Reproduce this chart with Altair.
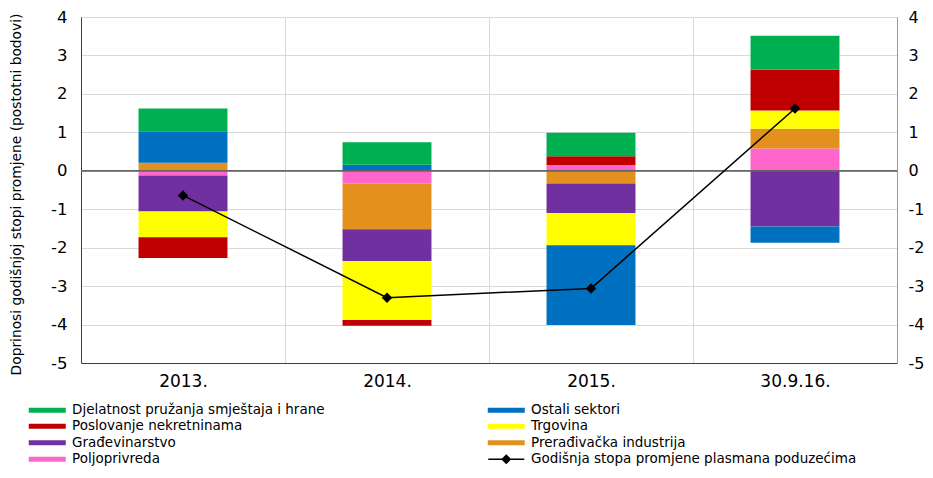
import altair as alt
import pandas as pd

categories = ["2013.", "2014.", "2015.", "30.9.16."]

s_djelatnost = [0.59, 0.58, 0.61, 0.88]
s_ostali = [0.82, 0.16, -2.07, -0.42]
s_poslovanje = [-0.54, -0.15, 0.23, 1.06]
s_trgovina = [-0.67, -1.53, -0.84, 0.48]
s_gradjevinarstvo = [-0.94, -0.83, -0.77, -1.45]
s_preradjivacka = [0.21, -1.19, -0.33, 0.51]
s_poljoprivreda = [-0.12, -0.33, 0.15, 0.58]
line_total = [-0.64, -3.30, -3.06, 1.62]

N_DJEL = "Djelatnost pružanja smještaja i hrane"
N_OST = "Ostali sektori"
N_POSL = "Poslovanje nekretninama"
N_TRG = "Trgovina"
N_GRAD = "Građevinarstvo"
N_PRER = "Prerađivačka industrija"
N_POLJ = "Poljoprivreda"
N_LINE = "Godišnja stopa promjene plasmana poduzećima"

# stacking order (closest to zero first)
stack_order = [N_POLJ, N_PRER, N_GRAD, N_TRG, N_POSL, N_OST, N_DJEL]
series_values = {
    N_DJEL: s_djelatnost,
    N_OST: s_ostali,
    N_POSL: s_poslovanje,
    N_TRG: s_trgovina,
    N_GRAD: s_gradjevinarstvo,
    N_PRER: s_preradjivacka,
    N_POLJ: s_poljoprivreda,
}

# legend filled column by column
legend_domain = [N_DJEL, N_POSL, N_GRAD, N_POLJ, N_OST, N_TRG, N_PRER, N_LINE]
legend_colors = ["#00B050", "#C00000", "#7030A0", "#FF66CC", "#0070C0", "#FFFF00", "#E3901F", "#000000"]

rows = []
for name in stack_order:
    for cat, v in zip(categories, series_values[name]):
        rows.append({"kategorija": cat, "sektor": name, "vrijednost": v,
                     "red": stack_order.index(name)})
bars_df = pd.DataFrame(rows)
line_df = pd.DataFrame({"kategorija": categories, "stopa": line_total})

FONT = "DejaVu Sans"
LABEL_EXPR = "datum.value < 0 ? '-' + abs(datum.value) : datum.label"

x_enc = alt.X(
    "kategorija:N",
    sort=categories,
    scale=alt.Scale(paddingInner=0, paddingOuter=0),
    axis=alt.Axis(
        title=None, labelAngle=0, ticks=False, grid=True, tickBand="extent",
        gridColor="#d9d9d9", gridWidth=1, domainColor="#404040",
        labelFont=FONT, labelFontSize=17, labelColor="#000000", labelPadding=10,
    ),
)

y_scale = alt.Scale(domain=[-5, 4], nice=False, zero=False)
y_values = list(range(-5, 5))

rect_path = "M-3.7,-0.5H3.7V0.5H-3.7Z"
line_path = "M-3.6,0H3.6M0,-0.8L0.8,0L0,0.8L-0.8,0Z"
is_line = f"datum.value === '{N_LINE}'"

bars = alt.Chart(bars_df).mark_bar(width=alt.RelativeBandSize(0.436)).encode(
    x=x_enc,
    y=alt.Y(
        "vrijednost:Q",
        stack="zero",
        scale=y_scale,
        axis=alt.Axis(
            title="Doprinosi godišnjoj stopi promjene (postotni bodovi)",
            values=y_values, ticks=False, grid=True, gridColor="#d9d9d9",
            domainColor="#404040", labelFont=FONT, labelFontSize=16.5,
            labelColor="#000000", labelPadding=14, labelExpr=LABEL_EXPR,
            titleFont=FONT, titleFontSize=13.8, titleFontWeight="normal",
            titleColor="#000000", titleX=-58, titleY=177, titleBaseline="bottom",
        ),
    ),
    color=alt.Color(
        "sektor:N",
        scale=alt.Scale(domain=legend_domain, range=legend_colors),
        legend=alt.Legend(
            title=None, orient="none", legendX=-52, legendY=386,
            columns=2, columnPadding=159, rowPadding=1.5, padding=0,
            symbolSize=100, symbolOffset=11.5, labelOffset=18,
            labelFont=FONT, labelFontSize=13.5, labelColor="#000000", labelLimit=700,
            symbolStrokeWidth=1.5,
            symbolType={"expr": f"{is_line} ? '{line_path}' : '{rect_path}'"},
            symbolStrokeColor={"expr": f"{is_line} ? '#000000' : 'transparent'"},
        ),
    ),
    order=alt.Order("red:Q", sort="ascending"),
)

zero_line = alt.Chart(line_df).mark_rule(color="#666666", strokeWidth=1).encode(
    y=alt.YDatum(0, scale=y_scale, axis=None)
)

line = alt.Chart(line_df).mark_line(
    color="#000000", strokeWidth=1.5,
    point=alt.OverlayMarkDef(shape="diamond", size=110, filled=True, color="#000000", opacity=1),
).encode(
    x=x_enc,
    y=alt.Y(
        "stopa:Q",
        scale=y_scale,
        axis=alt.Axis(
            orient="right", title=None, values=y_values, ticks=False, grid=False,
            domainColor="#999999", labelFont=FONT, labelFontSize=16,
            labelColor="#000000", labelPadding=11, labelExpr=LABEL_EXPR,
        ),
    ),
)

chart = (
    alt.layer(bars, zero_line, line)
    .resolve_axis(y="independent")
    .properties(
        width=816, height=346,
        autosize=alt.AutoSizeParams(type="none"),
        padding={"left": 73, "top": 9, "right": 28, "bottom": 105},
    )
    .configure_view(stroke="#999999", strokeWidth=1)
)

chart.save("out.html", embed_options={"renderer": "svg", "actions": False})
